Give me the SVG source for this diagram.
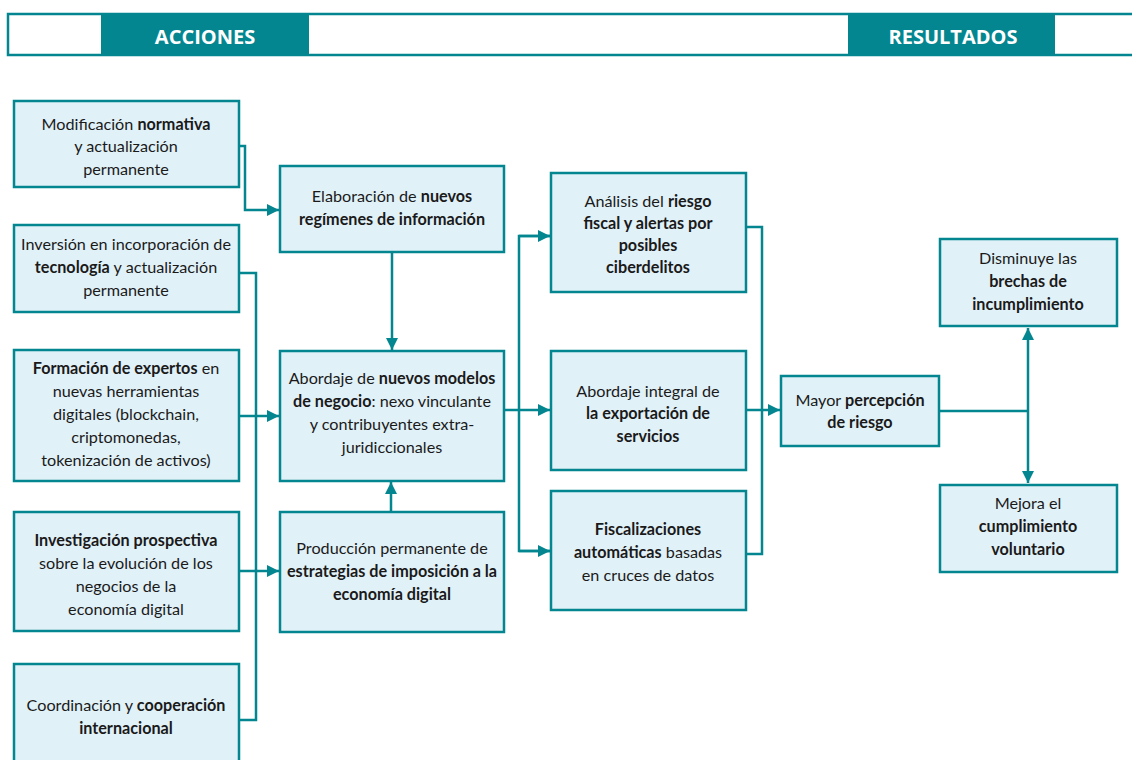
<svg xmlns="http://www.w3.org/2000/svg" width="1132" height="760" viewBox="0 0 1132 760">
<defs>
<style>
.box{fill:#E1F1F8;stroke:#03868F;stroke-width:2.5}
.t{font-family:Lato,"Open Sans",sans-serif;font-size:16.2px;fill:#1a1a1a;text-anchor:middle}
.b{font-weight:bold}
.c{fill:none;stroke:#03868F;stroke-width:2.5}
.h{font-family:"Open Sans",Lato,sans-serif;font-size:20px;font-weight:bold;fill:#ffffff;text-anchor:middle}
</style>
<marker id="ah" markerUnits="userSpaceOnUse" markerWidth="14" markerHeight="14" refX="12" refY="7" orient="auto">
<path d="M0,1 L12,7 L0,13 Z" fill="#03868F"/>
</marker>
</defs>
<g id="header">
<rect x="8" y="14" width="1130" height="41" fill="#ffffff" stroke="#03868F" stroke-width="2.5"/>
<rect x="101" y="13" width="208" height="43" fill="#03868F"/>
<rect x="848" y="13" width="207" height="43" fill="#03868F"/>
<text class="h" x="205" y="44">ACCIONES</text>
<text class="h" x="953" y="44">RESULTADOS</text>
</g>
<g id="connectors">
<polyline class="c" points="239,146 245,146 245,210 279,210" marker-end="url(#ah)"/>
<polyline class="c" points="239,273 256,273 256,720 239,720"/>
<line class="c" x1="239" y1="416" x2="279" y2="416" marker-end="url(#ah)"/>
<line class="c" x1="239" y1="571" x2="279" y2="571" marker-end="url(#ah)"/>
<line class="c" x1="392" y1="252" x2="392" y2="350" marker-end="url(#ah)"/>
<line class="c" x1="391" y1="512" x2="391" y2="482" marker-end="url(#ah)"/>
<line class="c" x1="504" y1="410" x2="550" y2="410" marker-end="url(#ah)"/>
<polyline class="c" points="550,236 519,236 519,551 550,551"/>
<line class="c" x1="519" y1="236" x2="550" y2="236" marker-end="url(#ah)"/>
<line class="c" x1="519" y1="551" x2="550" y2="551" marker-end="url(#ah)"/>
<polyline class="c" points="746,227 762,227 762,554 746,554"/>
<line class="c" x1="746" y1="410" x2="780" y2="410" marker-end="url(#ah)"/>
<line class="c" x1="939" y1="411" x2="1028" y2="411"/>
<line class="c" x1="1028" y1="411" x2="1028" y2="328" marker-end="url(#ah)"/>
<line class="c" x1="1028" y1="411" x2="1028" y2="483" marker-end="url(#ah)"/>
</g>
<g id="n1">
<rect class="box" x="14" y="101" width="225" height="86"/>
<text class="t" x="126" y="130">Modificación <tspan class="b">normativa</tspan></text>
<text class="t" x="126" y="152">y actualización</text>
<text class="t" x="126" y="175">permanente</text>
</g>
<g id="n2">
<rect class="box" x="14" y="225" width="225" height="87"/>
<text class="t" x="126" y="250">Inversión en incorporación de</text>
<text class="t" x="126" y="273"><tspan class="b">tecnología</tspan> y actualización</text>
<text class="t" x="126" y="296">permanente</text>
</g>
<g id="n3">
<rect class="box" x="14" y="350" width="225" height="131"/>
<text class="t" x="126" y="374"><tspan class="b">Formación de expertos</tspan> en</text>
<text class="t" x="126" y="397">nuevas herramientas</text>
<text class="t" x="126" y="420">digitales (blockchain,</text>
<text class="t" x="126" y="443">criptomonedas,</text>
<text class="t" x="126" y="466">tokenización de activos)</text>
</g>
<g id="n4">
<rect class="box" x="14" y="512" width="225" height="119"/>
<text class="t" x="126" y="546"><tspan class="b">Investigación prospectiva</tspan></text>
<text class="t" x="126" y="569">sobre la evolución de los</text>
<text class="t" x="126" y="592">negocios de la</text>
<text class="t" x="126" y="615">economía digital</text>
</g>
<g id="n5">
<rect class="box" x="14" y="664" width="225" height="110"/>
<text class="t" x="126" y="711">Coordinación y <tspan class="b">cooperación</tspan></text>
<text class="t" x="126" y="734"><tspan class="b">internacional</tspan></text>
</g>
<g id="n6">
<rect class="box" x="280" y="166" width="224" height="86"/>
<text class="t" x="392" y="202">Elaboración de <tspan class="b">nuevos</tspan></text>
<text class="t" x="392" y="225"><tspan class="b">regímenes de información</tspan></text>
</g>
<g id="n7">
<rect class="box" x="280" y="351" width="224" height="130"/>
<text class="t" x="392" y="384">Abordaje de <tspan class="b">nuevos modelos</tspan></text>
<text class="t" x="392" y="407"><tspan class="b">de negocio</tspan>: nexo vinculante</text>
<text class="t" x="392" y="430">y contribuyentes extra-</text>
<text class="t" x="392" y="453">juridiccionales</text>
</g>
<g id="n8">
<rect class="box" x="280" y="512" width="224" height="120"/>
<text class="t" x="392" y="554">Producción permanente de</text>
<text class="t" x="392" y="577"><tspan class="b">estrategias de imposición a la</tspan></text>
<text class="t" x="392" y="600"><tspan class="b">economía digital</tspan></text>
</g>
<g id="n9">
<rect class="box" x="551" y="173" width="195" height="119"/>
<text class="t" x="648" y="207">Análisis del <tspan class="b">riesgo</tspan></text>
<text class="t" x="648" y="229"><tspan class="b">fiscal y alertas por</tspan></text>
<text class="t" x="648" y="251"><tspan class="b">posibles</tspan></text>
<text class="t" x="648" y="273"><tspan class="b">ciberdelitos</tspan></text>
</g>
<g id="n10">
<rect class="box" x="551" y="351" width="195" height="119"/>
<text class="t" x="648" y="397">Abordaje integral de</text>
<text class="t" x="648" y="419"><tspan class="b">la exportación de</tspan></text>
<text class="t" x="648" y="442"><tspan class="b">servicios</tspan></text>
</g>
<g id="n11">
<rect class="box" x="551" y="491" width="195" height="119"/>
<text class="t" x="648" y="535"><tspan class="b">Fiscalizaciones</tspan></text>
<text class="t" x="648" y="558"><tspan class="b">automáticas</tspan> basadas</text>
<text class="t" x="648" y="581">en cruces de datos</text>
</g>
<g id="n12">
<rect class="box" x="781" y="376" width="158" height="70"/>
<text class="t" x="860" y="406">Mayor <tspan class="b">percepción</tspan></text>
<text class="t" x="860" y="428"><tspan class="b">de riesgo</tspan></text>
</g>
<g id="n13">
<rect class="box" x="940" y="239" width="177" height="87"/>
<text class="t" x="1028" y="264">Disminuye las</text>
<text class="t" x="1028" y="287"><tspan class="b">brechas de</tspan></text>
<text class="t" x="1028" y="310"><tspan class="b">incumplimiento</tspan></text>
</g>
<g id="n14">
<rect class="box" x="940" y="485" width="177" height="87"/>
<text class="t" x="1028" y="509">Mejora el</text>
<text class="t" x="1028" y="532"><tspan class="b">cumplimiento</tspan></text>
<text class="t" x="1028" y="555"><tspan class="b">voluntario</tspan></text>
</g>
</svg>
